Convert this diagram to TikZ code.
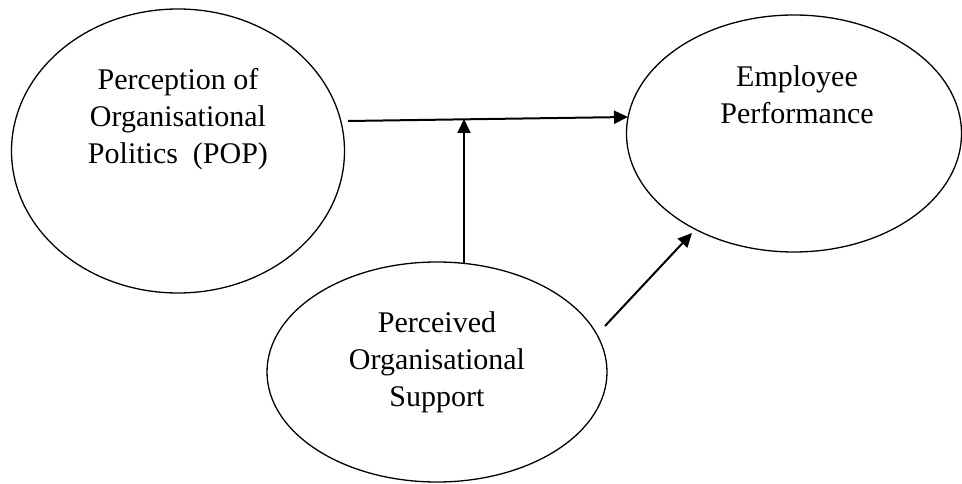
\documentclass[tikz,border=0pt]{standalone}
\usepackage{fontspec}
\setmainfont{Liberation Serif}
\usetikzlibrary{shapes.geometric,arrows.meta}
\begin{document}
\begin{tikzpicture}[x=1pt,y=-1pt,
  oval/.style={draw,ellipse,line width=1.3pt,inner sep=0pt},
  lbl/.style={align=center,font=\fontsize{30}{37}\selectfont,inner sep=0pt},
  arr/.style={line width=2pt,-{Triangle[length=14pt,width=13pt]}}]
\useasboundingbox (0,0) rectangle (962,484);
\node[oval,minimum width=333pt,minimum height=284pt] (pop) at (178,151) {};
\node[oval,minimum width=335pt,minimum height=237pt] (ep) at (794,133.5) {};
\node[oval,minimum width=340pt,minimum height=220pt] (pos) at (437,372) {};
\node[lbl,anchor=base] (tpop) at (178,164) {Perception of\\Organisational\\Politics \ (POP)};
\node[lbl,anchor=base] (tep) at (797,124) {Employee\\Performance};
\node[lbl,anchor=base] (tpos) at (437,406) {Perceived\\Organisational\\Support};
\coordinate (h1) at (348,121);
\coordinate (h2) at (628,117);
\coordinate (m) at (464,119);
\coordinate (v1) at (464,263.5);
\coordinate (d1) at (605,326);
\coordinate (d2) at (692,233);
\draw[arr] (h1) -- (h2);
\draw[arr] (v1) -- (m);
\draw[arr] (d1) -- (d2);
\end{tikzpicture}
\end{document}
